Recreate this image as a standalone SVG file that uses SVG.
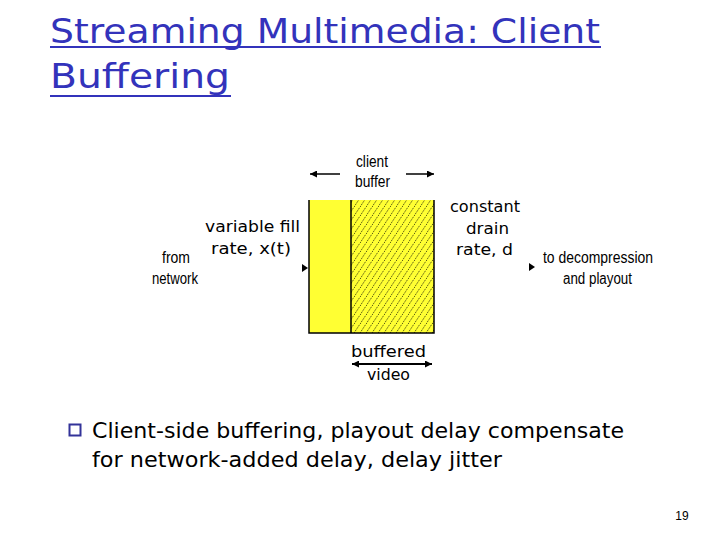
<svg xmlns="http://www.w3.org/2000/svg" width="720" height="540" viewBox="0 0 720 540">
<defs>
<style>
.title{font-family:"DejaVu Sans","Liberation Sans",sans-serif;font-size:34px;fill:#3333bb}
.ul{stroke:#3333bb;stroke-width:2}
.comic{font-family:"DejaVu Sans","Liberation Sans",sans-serif;font-size:16px;fill:#000}
.narrow{font-family:"Liberation Sans",sans-serif;font-size:16px;fill:#000}
.body{font-family:"DejaVu Sans","Liberation Sans",sans-serif;font-size:22px;fill:#000}
.ln{stroke:#000;stroke-width:1.5;fill:none}
</style>
<pattern id="hatch" width="6" height="9" patternUnits="userSpaceOnUse">
<rect width="6" height="9" fill="#ffff33"/>
<path d="M0,9 L6,0" stroke="#000" stroke-width="0.9" stroke-dasharray="1,1.2"/>
</pattern>
<marker id="ah" viewBox="0 0 10 10" refX="10" refY="5" markerWidth="7" markerHeight="7" markerUnits="userSpaceOnUse" orient="auto-start-reverse">
<path d="M0,0 L10,5 L0,10 z" fill="#000"/>
</marker>
</defs>
<rect width="720" height="540" fill="#fff"/>
<g id="title">
<text class="title" x="50" y="43" textLength="550" lengthAdjust="spacingAndGlyphs">Streaming Multimedia:  Client</text>
<line class="ul" x1="50" y1="47" x2="601" y2="47"/>
<text class="title" x="50" y="88" textLength="180" lengthAdjust="spacingAndGlyphs">Buffering</text>
<line class="ul" x1="50" y1="96" x2="231" y2="96"/>
</g>
<g id="buffer">
<rect x="309" y="200" width="42" height="133" fill="#ffff33"/>
<rect x="351" y="200" width="83" height="133" fill="url(#hatch)"/>
<path class="ln" d="M309,200 V333 H434 V200 M351,200 V333"/>
</g>
<g id="connectors">
<line x1="340" y1="174" x2="310" y2="174" stroke="#000" stroke-width="1.5" marker-end="url(#ah)"/>
<line x1="406" y1="174" x2="434" y2="174" stroke="#000" stroke-width="1.5" marker-end="url(#ah)"/>
<line x1="352" y1="364" x2="432" y2="364" stroke="#000" stroke-width="2" marker-start="url(#ah)" marker-end="url(#ah)"/>
<path d="M302,264 L308,268 L302,272 z" fill="#000"/>
<path d="M529,263 L535,267 L529,271 z" fill="#000"/>
</g>
<g id="labels">
<text class="narrow" x="356" y="167" textLength="32" lengthAdjust="spacingAndGlyphs">client</text>
<text class="narrow" x="355" y="187" textLength="35" lengthAdjust="spacingAndGlyphs">buffer</text>
<text class="narrow" x="162" y="263" textLength="28" lengthAdjust="spacingAndGlyphs">from</text>
<text class="narrow" x="152" y="284" textLength="46" lengthAdjust="spacingAndGlyphs">network</text>
<text class="narrow" x="543" y="263" textLength="110" lengthAdjust="spacingAndGlyphs">to decompression</text>
<text class="narrow" x="563" y="284" textLength="69" lengthAdjust="spacingAndGlyphs">and playout</text>
<text class="comic" x="205" y="232" textLength="95" lengthAdjust="spacingAndGlyphs">variable fill</text>
<text class="comic" x="211" y="254" textLength="80" lengthAdjust="spacingAndGlyphs">rate, x(t)</text>
<text class="comic" x="450" y="212" textLength="70" lengthAdjust="spacingAndGlyphs">constant</text>
<text class="comic" x="466" y="234" textLength="43" lengthAdjust="spacingAndGlyphs">drain</text>
<text class="comic" x="456" y="255" textLength="57" lengthAdjust="spacingAndGlyphs">rate, d</text>
<text class="comic" x="351" y="357" textLength="75" lengthAdjust="spacingAndGlyphs">buffered</text>
<text class="comic" x="367" y="380" textLength="43" lengthAdjust="spacingAndGlyphs">video</text>
</g>
<g id="bullet">
<rect x="69.5" y="424.5" width="11" height="11" fill="none" stroke="#333399" stroke-width="2"/>
<text class="body" x="92" y="438" textLength="532" lengthAdjust="spacingAndGlyphs">Client-side buffering, playout delay compensate</text>
<text class="body" x="92" y="467" textLength="410" lengthAdjust="spacingAndGlyphs">for network-added delay, delay jitter</text>
</g>
<text x="682" y="520" text-anchor="middle" font-family="Liberation Sans, sans-serif" font-size="12">19</text>
</svg>
